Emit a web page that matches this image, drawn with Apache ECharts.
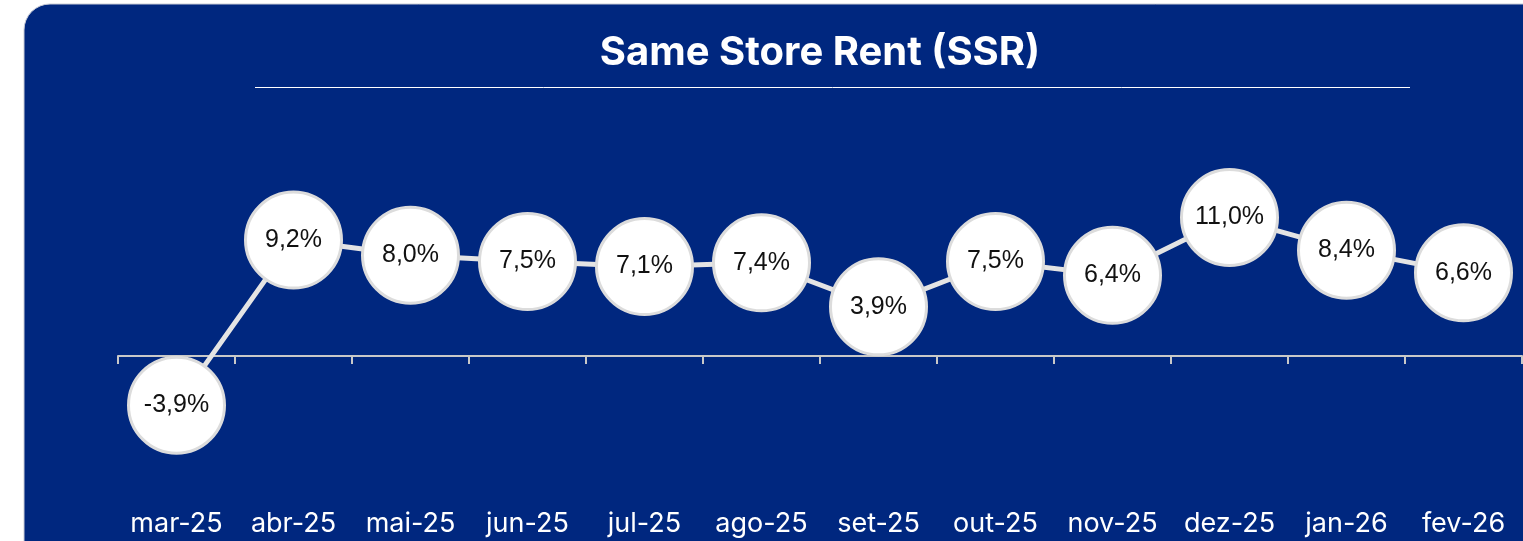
<!DOCTYPE html>
<html>
<head>
<meta charset="utf-8">
<script src="https://cdn.jsdelivr.net/npm/echarts@6/dist/echarts.min.js"></script>
<style>
html,body{margin:0;padding:0;background:#ffffff;}
#c{width:1523px;height:541px;}
</style>
</head>
<body>
<div id="c"></div>
<script>
var categories = ['mar-25','abr-25','mai-25','jun-25','jul-25','ago-25','set-25','out-25','nov-25','dez-25','jan-26','fev-26'];
var ssrValues = [-3.9, 9.2, 8.0, 7.5, 7.1, 7.4, 3.9, 7.5, 6.4, 11.0, 8.4, 6.6];
var titleText = 'Same Store Rent (SSR)';

var chart = echarts.init(document.getElementById('c'));
chart.setOption({
  backgroundColor: '#ffffff',
  animation: false,
  graphic: [
    { type: 'rect', z: -10, shape: { x: 24, y: 4, width: 1560, height: 600, r: 26 },
      style: { fill: '#00277F', stroke: '#c9ccd6', lineWidth: 1 } },
    { type: 'line', z: 5, shape: { x1: 255, y1: 87.5, x2: 1410, y2: 87.5 },
      style: { stroke: '#ffffff', lineWidth: 1 } },
    { type: 'text', z: 5, x: 820, y: 53,
      style: { text: titleText, fill: '#ffffff', font: 'bold 40px Inter, "Liberation Sans", sans-serif',
               textAlign: 'center', textVerticalAlign: 'middle' } }
  ],
  grid: [
    { left: 118, right: 1, top: 167, height: 252, outerBoundsMode: 'none', containLabel: false },
    { left: 118, right: 1, top: 434, height: 68, outerBoundsMode: 'none', containLabel: false }
  ],
  xAxis: [{
    type: 'category',
    gridIndex: 0,
    data: categories,
    boundaryGap: true,
    axisLine: { onZero: true, lineStyle: { color: '#c8c8c8', width: 2 } },
    axisTick: { show: true, interval: 0, length: 8, inside: false, lineStyle: { color: '#c8c8c8', width: 2 } },
    axisLabel: { show: false, interval: 0 },
    splitLine: { show: false }
  }, {
    type: 'category',
    gridIndex: 1,
    data: categories,
    boundaryGap: true,
    position: 'bottom',
    axisLine: { show: false, onZero: false },
    axisTick: { show: false },
    axisLabel: { show: true, interval: 0, color: '#ffffff', fontSize: 27, margin: 8, fontFamily: 'Inter, "Liberation Sans", sans-serif' },
    splitLine: { show: false }
  }],
  yAxis: [{
    type: 'value', gridIndex: 0, min: -5, max: 15, interval: 5,
    show: false
  }, {
    type: 'value', gridIndex: 1, min: 0, max: 1, interval: 1,
    show: false
  }],
  series: [{
    type: 'line',
    xAxisIndex: 0,
    yAxisIndex: 0,
    data: ssrValues,
    symbol: 'circle',
    symbolSize: 96,
    showSymbol: true,
    showAllSymbol: true,
    lineStyle: { color: '#e4e4e4', width: 5 },
    itemStyle: { color: '#ffffff', borderColor: '#dcdcdc', borderWidth: 3 },
    label: {
      show: true, position: 'inside', color: '#111111', fontSize: 25,
      fontFamily: '"Liberation Sans", Arial, sans-serif',
      formatter: function (p) { return p.value.toFixed(1).replace('.', ',') + '%'; }
    },
    emphasis: { disabled: true },
    z: 3
  }]
});
</script>
</body>
</html>
